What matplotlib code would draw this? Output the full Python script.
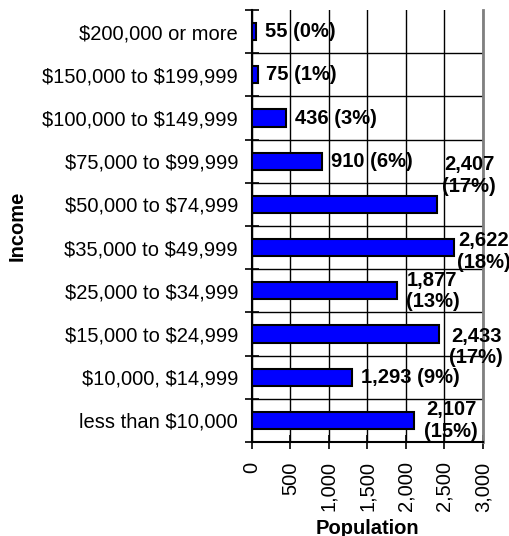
import matplotlib
matplotlib.use("Agg")
import matplotlib.pyplot as plt
import numpy as np
from matplotlib.transforms import offset_copy

plt.rcParams['font.family'] = ['Liberation Sans', 'DejaVu Sans']
plt.rcParams['text.parse_math'] = False

categories = ["less than $10,000", "$10,000, $14,999", "$15,000 to $24,999",
              "$25,000 to $34,999", "$35,000 to $49,999", "$50,000 to $74,999",
              "$75,000 to $99,999", "$100,000 to $149,999", "$150,000 to $199,999",
              "$200,000 or more"]
population = [2107, 1293, 2433, 1877, 2622, 2407, 910, 436, 75, 55]
x_ticks = [0, 500, 1000, 1500, 2000, 2500, 3000]

# label layout (style): two-line flag, x offset px, y offset px (positive = down)
label_two_line = [True, False, True, True, True, True, False, False, False, False]
label_dx = [10, 9, 10, 9, 3, 5, 9, 9, 8, 9]
label_dy = [0, 0, 13, 0, 4, -29, 0, 0, 0, 0]

FS = 14.5
fig = plt.figure(figsize=(5.10, 5.36), dpi=100)
ax = fig.add_axes([252/510, 1-442/536, (483-252)/510, (442-10)/536])

y = np.arange(len(categories))
ax.barh(y, population, height=0.4, color='#0000FF', edgecolor='black', linewidth=1.5, zorder=3)

ax.set_xlim(0, 3000)
ax.set_ylim(-0.5, len(categories)-0.5)
ax.set_xticks(x_ticks)
ax.set_xticklabels([f"{v:,}" for v in x_ticks], rotation=90, fontsize=FS, va='top')
ax.set_yticks(y)
ax.set_yticklabels(categories, fontsize=FS)
ax.tick_params(axis='y', which='major', length=0, pad=10)
ax.set_yticks(np.arange(-0.5, len(categories), 1), minor=True)
ax.tick_params(axis='y', which='minor', length=10, direction='inout', width=1.2)
ax.tick_params(axis='x', which='major', length=10, direction='inout', width=1.2, pad=9)

ax.xaxis.grid(True, color='black', linewidth=1, zorder=0)
for b in np.arange(0.5, len(categories)-1, 1):
    ax.axhline(b, color='black', linewidth=1, zorder=0)
ax.set_axisbelow(True)

ax.spines['top'].set_visible(False)
ax.spines['right'].set_color('#808080')
ax.spines['right'].set_linewidth(2)
ax.spines['left'].set_linewidth(1.5)
ax.spines['bottom'].set_linewidth(1.5)

total = sum(population)
for i, v in enumerate(population):
    pct = round(100 * v / total)
    sep = "\n" if label_two_line[i] else " "
    txt = f"{v:,}{sep}({pct}%)"
    tr = offset_copy(ax.transData, fig=fig, x=label_dx[i], y=-label_dy[i], units='dots')
    ax.text(v, i, txt, transform=tr, ha='left', va='center', fontsize=FS,
            fontweight='bold', multialignment='center', linespacing=1.15,
            clip_on=False, zorder=4)

ax.set_xlabel("Population", fontsize=FS, fontweight='bold')
ax.xaxis.set_label_coords(0.5, -(528-442)/432)
ax.xaxis.label.set_va('center')
ax.set_ylabel("Income", fontsize=FS, fontweight='bold')
ax.yaxis.set_label_coords(-(252-27)/231, 0.5)

fig.savefig("out.png", dpi=100)
